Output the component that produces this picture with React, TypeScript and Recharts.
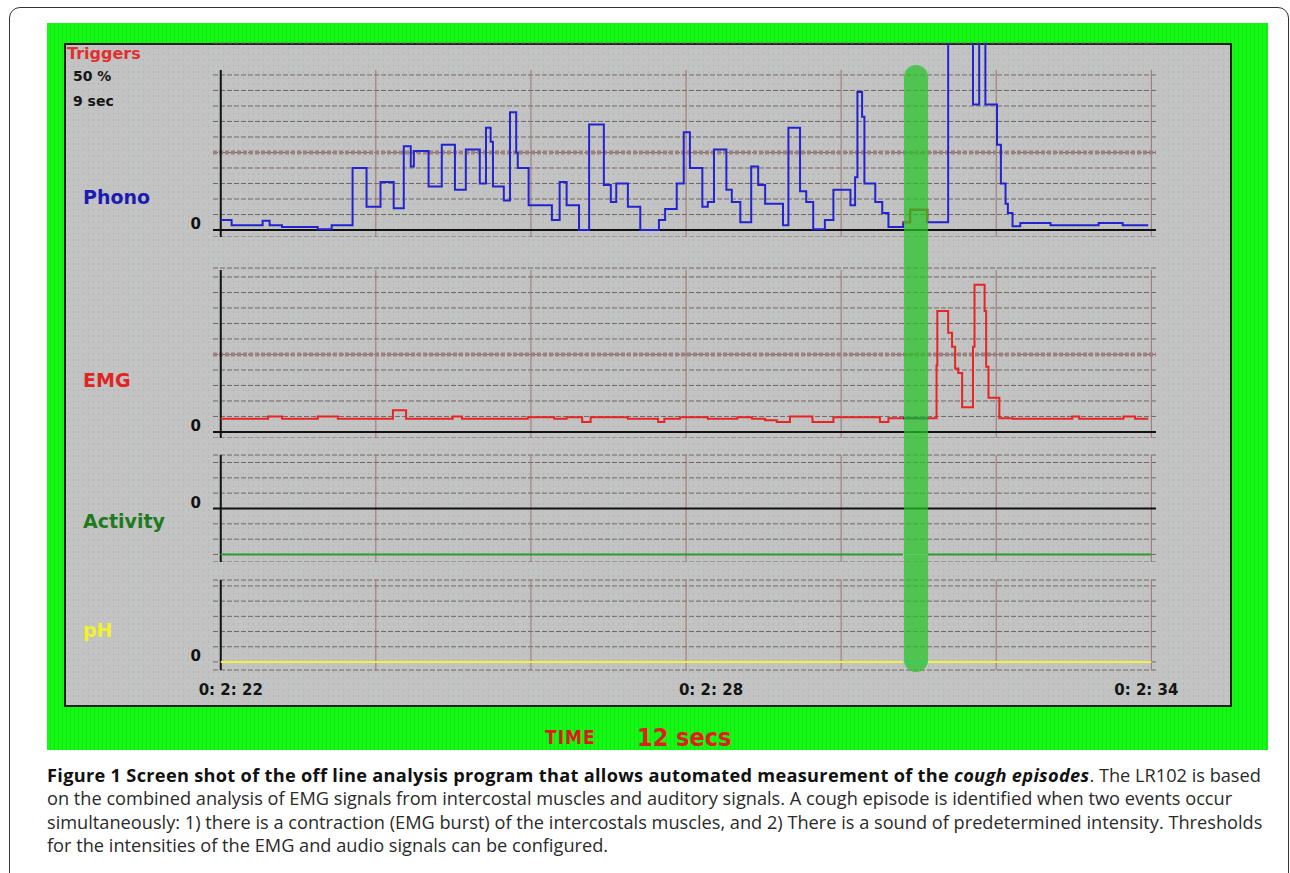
import { LineChart, Line, XAxis, YAxis, CartesianGrid, ReferenceLine } from 'recharts';

// Time is seconds past 0:2:00. Each pair is a change point of the trace.
const phonoTime = [
  22.0, 22.14, 22.54, 22.63, 22.79, 23.25, 23.43, 23.7, 23.88, 24.06, 24.23, 24.36, 24.45, 24.49,
  24.68, 24.85, 25.02, 25.16, 25.34, 25.42, 25.48, 25.51, 25.65, 25.73, 25.81, 25.83, 25.97, 26.27,
  26.37, 26.46, 26.62, 26.75, 26.94, 27.03, 27.1, 27.25, 27.41, 27.65, 27.73, 27.88, 27.97, 28.05,
  28.21, 28.28, 28.36, 28.52, 28.59, 28.7, 28.84, 28.93, 29.02, 29.25, 29.32, 29.47, 29.55, 29.64,
  29.79, 29.9, 30.12, 30.18, 30.21, 30.27, 30.3, 30.44, 30.53, 30.61, 30.8, 30.89, 31.11, 31.38,
  31.7, 31.78, 31.86, 32.01, 32.06, 32.12, 32.15, 32.21, 32.31, 32.7, 33.32, 33.63, 33.96,
];
const phonoValue = [
  0.65, 0.3, 0.6, 0.3, 0.2, 0.05, 0.3, 4.0, 1.5, 3.1, 1.4, 5.4, 4.1, 5.1,
  2.8, 5.5, 2.6, 5.2, 3.0, 6.6, 5.7, 2.8, 1.9, 7.6, 5.0, 4.0, 1.6, 0.65,
  3.1, 1.6, 0, 6.8, 2.9, 1.8, 3.0, 1.5, 0, 0.65, 1.35, 3.0, 6.3, 4.0,
  1.5, 1.8, 5.2, 2.6, 1.8, 0.5, 4.1, 2.9, 1.7, 0.3, 6.6, 2.5, 1.8, 0.05,
  0.65, 2.6, 1.6, 3.4, 8.9, 7.3, 3.0, 1.8, 1.1, 0.2, 0.5, 1.3, 0.5, 14,
  8.1, 14, 8.1, 5.5, 3.0, 1.7, 1.1, 0.25, 0.45, 0.3, 0.45, 0.3, 0.3,
];
const phonoCoughTime = [30.8, 30.89, 31.11];
const phonoCoughValue = [0.5, 1.3, 0.5];

const emgTime = [
  22.0, 22.61, 22.79, 23.25, 23.51, 24.22, 24.39, 24.99, 25.11, 25.96, 26.3, 26.46, 26.66, 26.77,
  27.25, 27.64, 27.72, 27.92, 28.28, 28.66, 28.85, 29.02, 29.17, 29.34, 29.63, 29.9, 30.5, 30.61,
  31.12, 31.23, 31.24, 31.38, 31.43, 31.47, 31.51, 31.56, 31.7, 31.72, 31.85, 31.87, 31.9, 32.04,
  32.21, 32.98, 33.07, 33.64, 33.79, 33.96,
];
const emgValue = [
  0.85, 1.0, 0.85, 1.0, 0.85, 1.4, 0.85, 1.0, 0.85, 0.95, 0.85, 0.95, 0.65, 0.95,
  0.85, 0.65, 0.85, 0.95, 0.85, 0.95, 0.85, 0.75, 0.65, 1.0, 0.65, 0.95, 0.65, 0.88,
  0.88, 4.3, 7.8, 6.4, 5.5, 4.1, 3.8, 1.6, 5.5, 9.5, 7.8, 4.2, 2.2, 0.88,
  0.85, 1.0, 0.85, 1.0, 0.85, 0.85,
];
const emgCoughTime = [30.8, 31.12];
const emgCoughValue = [0.88, 0.88];

const activityTime = [22, 34];
const activityValue = [-3, -3];
const activityCoughTime = [30.8, 31.12];
const activityCoughValue = [-3, -3];

const phTime = [22, 34];
const phValue = [0, 0];
const phCoughTime = [30.8, 31.12];
const phCoughValue = [0, 0];

const gridSeconds = [24, 26, 28, 30, 32, 34];
const timeTicks = [22, 28, 34];
const timeLabelShift: Record<number, number> = { 22: 10, 28: 25, 34: -5 };

const X_DOMAIN = [21.9, 34.06];
const BOLD = '"DejaVu Sans", Verdana, sans-serif';

const rows = (t: number[], v: number[]) => t.map((x, i) => ({ t: x, v: v[i] }));

const ZeroTick = (props: any) => {
  const { x, y, payload } = props;
  if (payload.value !== 0) return null;
  return (
    <text x={x - 12} y={y - 6} textAnchor="end" dominantBaseline="central"
      fontFamily={BOLD} fontWeight="bold" fontSize={15} fill="#111">0</text>
  );
};

const TimeTick = (props: any) => {
  const { x, y, payload } = props;
  return (
    <text x={x + (timeLabelShift[payload.value] ?? 0)} y={y + 25} textAnchor="middle"
      fontFamily={BOLD} fontWeight="bold" fontSize={15} fill="#151515">
      {`0: 2: ${payload.value}`}
    </text>
  );
};

type Trace = { data: { t: number; v: number }[]; color: string };

function Panel(props: {
  top: number; height: number; marginTop: number; marginBottom: number;
  domain: number[]; ticks: number[]; gridTop: number;
  threshold?: number; zeroLine?: boolean; showTime?: boolean; traces: Trace[];
}) {
  const { top, height, marginTop, marginBottom, domain, ticks, gridTop, threshold, zeroLine, showTime, traces } = props;
  return (
    <div style={{ position: 'absolute', left: 0, top }}>
      <LineChart width={1290} height={height}
        margin={{ top: marginTop, right: 134, bottom: marginBottom, left: 183 }}>
        <CartesianGrid vertical={false} stroke="#746666" strokeDasharray="5 2" />
        <XAxis type="number" dataKey="t" domain={X_DOMAIN} allowDataOverflow
          hide={!showTime} ticks={timeTicks} interval={0} axisLine={false} tickLine={false}
          tickSize={0} tickMargin={0} height={30} tick={<TimeTick />} />
        <YAxis type="number" domain={domain} allowDataOverflow ticks={ticks} interval={0}
          width={30} axisLine={false} tickLine={false} tickSize={0} tickMargin={0} tick={<ZeroTick />} />
        {gridSeconds.map((s) => (
          <ReferenceLine key={s} segment={[{ x: s, y: domain[0] }, { x: s, y: gridTop }]}
            stroke="#9c7272" strokeWidth={1} />
        ))}
        {threshold !== undefined && (
          <ReferenceLine y={threshold} stroke="#9c8080" strokeWidth={4} strokeDasharray="4 2" />
        )}
        {zeroLine && <ReferenceLine y={0} stroke="#111" strokeWidth={2} />}
        <ReferenceLine segment={[{ x: 22, y: domain[0] }, { x: 22, y: gridTop }]} stroke="#111" strokeWidth={2} />
        {traces.map((tr, i) => (
          <Line key={i} data={tr.data} dataKey="v" type="stepAfter" stroke={tr.color}
            strokeWidth={2} dot={false} activeDot={false} isAnimationActive={false} />
        ))}
      </LineChart>
    </div>
  );
}

const labelStyle = (top: number, color: string): React.CSSProperties => ({
  position: 'absolute', left: 83, top, color, fontFamily: BOLD, fontWeight: 'bold',
  fontSize: 19, lineHeight: '22px',
});

export default function App() {
  return (
    <div style={{ position: 'absolute', left: 0, top: 0, width: 1290, height: 873, overflow: 'hidden', background: '#fff' }}>
      <div style={{ position: 'absolute', left: 9, top: 7, width: 1278, height: 880, border: '1.5px solid #333', borderRadius: 11 }} />
      <div style={{
        position: 'absolute', left: 47, top: 23, width: 1221, height: 727,
        background: 'repeating-linear-gradient(90deg, #16f916 0px, #16f916 3px, #0de80d 3px, #0de80d 4px)',
      }} />
      <div style={{
        position: 'absolute', left: 64, top: 43, width: 1164, height: 660, border: '2px solid #1e1e1e',
        backgroundColor: '#c3c3c3',
        backgroundImage: 'radial-gradient(circle, rgba(150,178,170,0.5) 0.7px, transparent 1.1px)',
        backgroundSize: '5px 6px',
      }} />

      <div style={{ position: 'absolute', left: 67, top: 45, color: '#e03030', fontFamily: BOLD, fontWeight: 'bold', fontSize: 16, lineHeight: '18px' }}>Triggers</div>
      <div style={{ position: 'absolute', left: 73, top: 68, color: '#151515', fontFamily: BOLD, fontWeight: 'bold', fontSize: 14, lineHeight: '16px' }}>50 %</div>
      <div style={{ position: 'absolute', left: 73, top: 93, color: '#151515', fontFamily: BOLD, fontWeight: 'bold', fontSize: 14, lineHeight: '16px' }}>9 sec</div>

      <div style={labelStyle(186, '#1c1cb4')}>Phono</div>
      <div style={labelStyle(369, '#e02424')}>EMG</div>
      <div style={labelStyle(510, '#1f7a1f')}>Activity</div>
      <div style={labelStyle(619, '#f2f22a')}>pH</div>

      <Panel top={40} height={197} marginTop={3} marginBottom={0}
        domain={[-0.45, 12.06]} ticks={[0, 1, 2, 3, 4, 5, 6, 7, 8, 9, 10]} gridTop={10.32}
        threshold={5} zeroLine
        traces={[
          { data: rows(phonoTime, phonoValue), color: '#2323d2' },
          { data: rows(phonoCoughTime, phonoCoughValue), color: '#ee2a10' },
        ]} />
      <Panel top={260} height={178} marginTop={8} marginBottom={0}
        domain={[-0.39, 10.58]} ticks={[0, 1, 2, 3, 4, 5, 6, 7, 8, 9, 10]} gridTop={10.45}
        threshold={5} zeroLine
        traces={[
          { data: rows(emgTime, emgValue), color: '#e82424' },
          { data: rows(emgCoughTime, emgCoughValue), color: '#1a2a9a' },
        ]} />
      <Panel top={450} height={112} marginTop={5} marginBottom={0}
        domain={[-3.49, 3.49]} ticks={[-3, -2, -1, 0, 1, 2, 3]} gridTop={3.49}
        zeroLine
        traces={[
          { data: rows(activityTime, activityValue), color: '#2f9a2f' },
          { data: rows(activityCoughTime, activityCoughValue), color: '#eeeaea' },
        ]} />
      <Panel top={575} height={125} marginTop={5} marginBottom={0}
        domain={[-0.53, 5.39]} ticks={[0, 1, 2, 3, 4, 5]} gridTop={5.39}
        showTime
        traces={[
          { data: rows(phTime, phValue), color: '#f4f040' },
          { data: rows(phCoughTime, phCoughValue), color: '#50f0f0' },
        ]} />

      <div style={{
        position: 'absolute', left: 904, top: 65, width: 24, height: 607, borderRadius: 12,
        background: 'rgba(38, 196, 38, 0.72)', pointerEvents: 'none',
      }} />

      <div style={{ position: 'absolute', left: 545, top: 726, color: '#e01818', fontFamily: '"DejaVu Sans Condensed", "DejaVu Sans", sans-serif', fontWeight: 'bold', fontSize: 19, lineHeight: '22px', letterSpacing: 1 }}>TIME</div>
      <div style={{ position: 'absolute', left: 637, top: 723, color: '#e01e1e', fontFamily: '"DejaVu Sans Condensed", "DejaVu Sans", sans-serif', fontWeight: 'bold', fontSize: 25, lineHeight: '30px' }}>12 secs</div>

      <div style={{
        position: 'absolute', left: 47, top: 764, fontFamily: '"Open Sans", sans-serif', fontSize: 18.2,
        lineHeight: '23.3px', color: '#2a2a2a', whiteSpace: 'nowrap',
      }}>
        <b style={{ color: '#111', letterSpacing: 0.3 }}>Figure 1 Screen shot of the off line analysis program that allows automated measurement of the <i>cough episodes</i></b>. The LR102 is based<br />
        on the combined analysis of EMG signals from intercostal muscles and auditory signals. A cough episode is identified when two events occur<br />
        simultaneously: 1) there is a contraction (EMG burst) of the intercostals muscles, and 2) There is a sound of predetermined intensity. Thresholds<br />
        for the intensities of the EMG and audio signals can be configured.
      </div>
    </div>
  );
}
